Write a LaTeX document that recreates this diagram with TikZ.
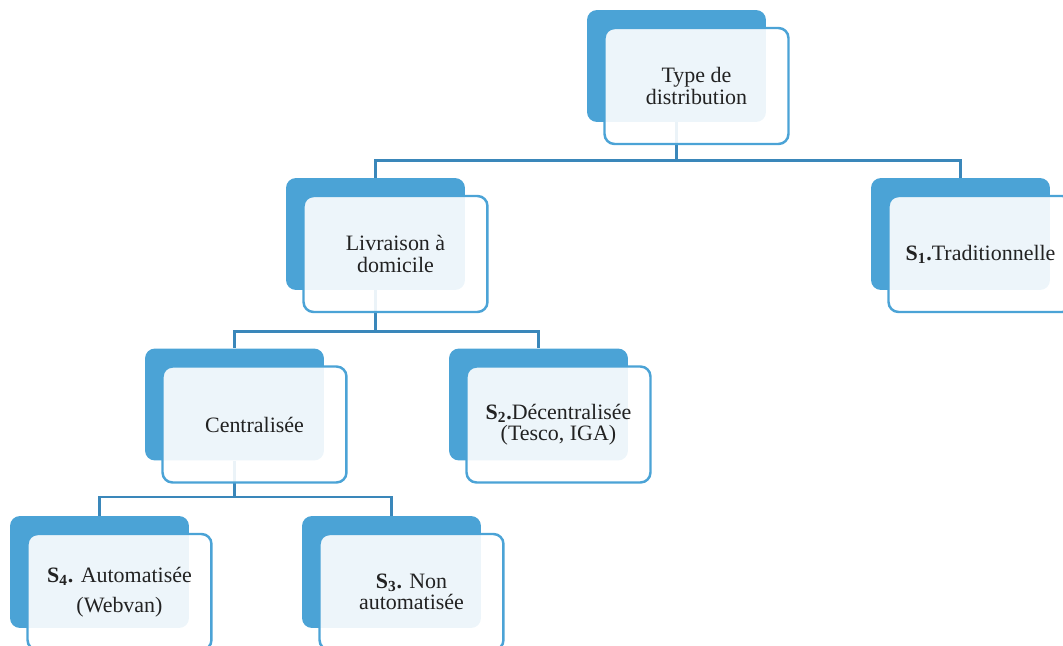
\documentclass[tikz,border=0pt]{standalone}
\usepackage{fontspec}
\setmainfont{Liberation Serif}
\definecolor{boxblue}{HTML}{4BA3D6}
\definecolor{linkblue}{HTML}{3A87BA}
\definecolor{textgray}{HTML}{222222}
\begin{document}
\begin{tikzpicture}[x=0.02cm, y=-0.02cm,
	back/.style={rounded corners=0.2cm, fill=boxblue, inner sep=0pt, minimum width=3.58cm, minimum height=2.24cm},
	front/.style={rounded corners=0.2cm, draw=boxblue, line width=1.4pt, fill=white, fill opacity=0.9, text opacity=1, inner sep=0pt, minimum width=3.68cm, minimum height=2.32cm, align=center, text=textgray, font=\fontsize{12.5}{12}\selectfont},
	link/.style={draw=linkblue, line width=1.5pt}]

				\clip (0,0) rectangle (1063,646);

				\node[back] (type) at (676.5,66) {};
				\node[back] (livraison) at (375.5,234) {};
				\node[back] (traditionnelle) at (960.5,234) {};
				\node[back] (centralisee) at (234.5,404.5) {};
				\node[back] (decentralisee) at (538.5,404.5) {};
				\node[back] (automatisee) at (99.5,572) {};
				\node[back] (nonauto) at (391.5,572) {};

				\draw[link] (type.south) -- ++(0,38) -| (livraison.north);
				\draw[link] (type.south) -- ++(0,38) -| (traditionnelle.north);
				\draw[link] (livraison.south) -- ++(0,41) -| (centralisee.north);
				\draw[link] (livraison.south) -- ++(0,41) -| (decentralisee.north);
				\draw[link] (centralisee.south) -- ++(0,36) -| (automatisee.north);
				\draw[link] (centralisee.south) -- ++(0,36) -| (nonauto.north);

				\node[front] (typeF) at ([xshift=0.4cm, yshift=-0.4cm]type.center) {Type de\\distribution};
				\node[front] (livraisonF) at ([xshift=0.4cm, yshift=-0.4cm]livraison.center) {Livraison à\\domicile};
				\node[front] (traditionnelleF) at ([xshift=0.4cm, yshift=-0.4cm]traditionnelle.center) {\textbf{S\textsubscript{1}.}Traditionnelle};
				\node[front] (centraliseeF) at ([xshift=0.4cm, yshift=-0.4cm]centralisee.center) {Centralisée};
				\node[front] (decentraliseeF) at ([xshift=0.4cm, yshift=-0.4cm]decentralisee.center) {\textbf{S\textsubscript{2}.}Décentralisée\\(Tesco, IGA)};
				\node[front] (automatiseeF) at ([xshift=0.4cm, yshift=-0.4cm]automatisee.center) {\textbf{S\textsubscript{4}.} Automatisée\\[0.17cm](Webvan)};
				\node[front] (nonautoF) at ([xshift=0.4cm, yshift=-0.4cm]nonauto.center) {\textbf{S\textsubscript{3}.} Non\\automatisée};

			\end{tikzpicture}
\end{document}
